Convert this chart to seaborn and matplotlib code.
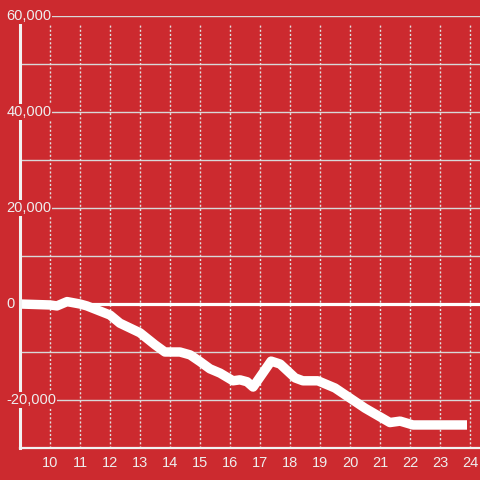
import matplotlib
matplotlib.use("Agg")
import matplotlib.pyplot as plt
import seaborn as sns

# values (hour of day, running total)
hours = [9.0, 10.0, 10.23, 10.57, 11.0, 11.23, 12.0, 12.33, 13.0, 13.5, 13.83,
         14.33, 14.67, 15.0, 15.33, 15.67, 16.1, 16.33, 16.57, 16.77, 17.37,
         17.67, 18.17, 18.43, 18.93, 19.5, 20.0, 20.5, 21.33, 21.67, 22.1, 23.9]
totals = [0, -200, -400, 500, 0, -400, -2300, -4000, -6000, -8500, -10000,
          -10000, -10600, -12000, -13500, -14400, -16000, -15800, -16200, -17300, -11900,
          -12500, -15400, -16000, -16000, -17500, -19600, -21700, -24700, -24400, -25200, -25200]
x_ticks = list(range(10, 25))
y_ticks = [-20000, 0, 20000, 40000, 60000]

red = "#cc2a2f"
light = "#eeeeee"

sns.set_style("white", {"axes.facecolor": red, "figure.facecolor": red})
plt.rcParams["font.family"] = ["Liberation Sans", "DejaVu Sans"]

fig = plt.figure(figsize=(4.8, 4.8), dpi=100)
ax = fig.add_axes([20 / 480, 32 / 480, 460 / 480, 432 / 480])

ax.set_xlim(9, 24.333)
ax.set_ylim(-30000, 60000)

# horizontal grid every 10,000
for v in range(-20000, 60001, 10000):
    if v != 0:
        ax.axhline(v, color="#d8d8d8", lw=1, zorder=1)
ax.axhline(0, color="white", lw=2.3, zorder=1.5)

# dotted hour lines
ax.vlines(x_ticks, -30000, 58300, colors="#e0e0e0", lw=1,
          linestyles=(0, (1.5, 1.5)), zorder=1)

sns.lineplot(x=hours, y=totals, ax=ax, color="white", lw=6.8,
             solid_capstyle="butt", solid_joinstyle="round", zorder=2)

for s in ["top", "right"]:
    ax.spines[s].set_visible(False)
ax.spines["left"].set_color("#f2f2f2")
ax.spines["left"].set_linewidth(2.2)
ax.spines["left"].set_bounds(-30000, 58300)
ax.spines["bottom"].set_color("#f2f2f2")
ax.spines["bottom"].set_linewidth(1.6)

ax.set_xticks(x_ticks)
ax.set_xticklabels([str(h) for h in x_ticks])
ax.tick_params(axis="x", length=0, pad=5.5, labelsize=10.5, colors=light)
ax.set_yticks([])

for v in y_ticks:
    ax.text(-0.03, v, f"{v:,}", transform=ax.get_yaxis_transform(),
            ha="left", va="center", fontsize=10.5, color=light, zorder=3,
            clip_on=False,
            bbox=dict(facecolor=red, edgecolor="none", pad=0.8))

fig.savefig("out.png", dpi=100, facecolor=red)
